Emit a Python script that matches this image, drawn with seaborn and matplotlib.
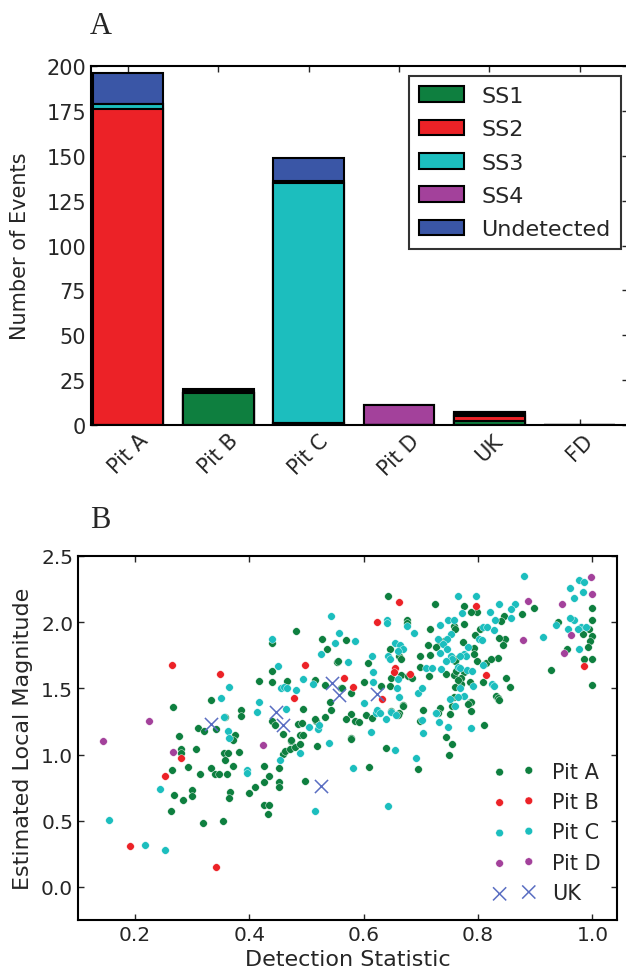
import matplotlib

matplotlib.use("Agg")
import matplotlib.pyplot as plt
import numpy as np
import pandas as pd
import seaborn as sns
from matplotlib.patches import Patch

# ---- panel A: stacked event counts per site
sites = ["Pit A", "Pit B", "Pit C", "Pit D", "UK", "FD"]
ss1 = [0, 18, 1, 0, 2, 0]
ss2 = [176, 0, 0, 0, 3, 0]
ss3 = [3, 0, 134, 0, 1, 0]
ss4 = [0, 1, 1, 11, 1, 0]
undetected = [17, 1, 13, 0, 0, 0]
layer_names = ["SS1", "SS2", "SS3", "SS4", "Undetected"]

# ---- panel B: detection statistic vs magnitude
pit_a = [
    (0.481, 1.93), (0.527, 1.876), (0.569, 1.863), (0.536, 1.80), (0.439, 1.845),
    (0.553, 1.70), (0.44, 1.63), (0.417, 1.557), (0.439, 1.547), (0.466, 1.557),
    (0.515, 1.565), (0.533, 1.527), (0.561, 1.505), (0.332, 1.414), (0.386, 1.34),
    (0.386, 1.29), (0.266, 1.36), (0.493, 1.345), (0.541, 1.40), (0.543, 1.335),
    (0.533, 1.28), (0.578, 1.307), (0.569, 1.27), (0.584, 1.25), (0.517, 1.25),
    (0.342, 1.19), (0.31, 1.20), (0.32, 1.18), (0.358, 1.28), (0.281, 1.045),
    (0.281, 1.01), (0.306, 1.045), (0.355, 1.015), (0.362, 1.015), (0.381, 1.02),
    (0.358, 0.956), (0.372, 0.916), (0.332, 0.90), (0.34, 0.853), (0.347, 0.85),
    (0.36, 0.85), (0.313, 0.85), (0.293, 0.903), (0.264, 0.886), (0.268, 0.694),
    (0.283, 0.653), (0.30, 0.734), (0.30, 0.683), (0.263, 0.57), (0.318, 0.48),
    (0.354, 0.50), (0.366, 0.72), (0.365, 0.67), (0.40, 0.709), (0.41, 0.755),
    (0.425, 0.79), (0.435, 0.835), (0.426, 0.91), (0.451, 0.898), (0.452, 0.79),
    (0.452, 0.755), (0.426, 0.615), (0.434, 0.62), (0.433, 0.547), (0.458, 1.005),
    (0.463, 1.03), (0.471, 1.04), (0.479, 1.057), (0.488, 1.08), (0.472, 1.10),
    (0.518, 1.065), (0.497, 0.797), (0.277, 1.143), (0.375, 1.15), (0.372, 1.11),
    (0.472, 1.11), (0.489, 1.15), (0.494, 1.146), (0.485, 1.227), (0.492, 1.235),
    (0.515, 1.265), (0.578, 1.125), (0.458, 1.158), (0.439, 1.25), (0.445, 1.22),
    (0.61, 0.906), (0.638, 1.047), (0.577, 1.118), (0.591, 1.244), (0.604, 1.295),
    (0.615, 1.277), (0.661, 1.315), (0.669, 1.373), (0.694, 0.893), (0.704, 1.34),
    (0.733, 1.348), (0.751, 1.307), (0.744, 1.13), (0.754, 1.08), (0.749, 1.00),
    (0.811, 1.22), (0.785, 1.40), (0.835, 1.42), (0.699, 1.257), (0.73, 1.31),
    (0.898, 2.105), (0.999, 2.11), (0.877, 2.06), (0.846, 2.047), (0.84, 2.01),
    (0.847, 1.87), (0.843, 1.825), (0.837, 1.88), (0.834, 1.73), (0.798, 2.08),
    (0.787, 2.077), (0.776, 2.12), (0.725, 2.14), (0.642, 2.20), (0.676, 2.015),
    (0.676, 1.99), (0.716, 1.95), (0.757, 1.97), (0.759, 1.946), (0.775, 1.985),
    (0.773, 1.853), (0.804, 1.946), (0.794, 1.90), (0.792, 1.807), (0.792, 1.757),
    (0.762, 1.72), (0.759, 1.71), (0.74, 1.858), (0.734, 1.84), (0.726, 1.815),
    (0.713, 1.825), (0.699, 1.744), (0.716, 1.75), (0.798, 1.71), (0.813, 1.69),
    (0.823, 1.72), (0.809, 1.55), (0.832, 1.44), (0.835, 1.425), (0.837, 1.415),
    (0.849, 1.58), (0.856, 1.51), (0.775, 1.62), (0.77, 1.58), (0.785, 1.55),
    (0.77, 1.53), (0.787, 1.40), (0.76, 1.51), (0.757, 1.60), (0.765, 1.56),
    (0.555, 1.706), (0.608, 1.69), (0.646, 1.80), (0.661, 1.744), (0.665, 1.72),
    (0.665, 1.60), (0.648, 1.58), (0.645, 1.52), (0.677, 1.59), (0.685, 1.58),
    (0.562, 1.505), (0.578, 1.467), (0.60, 1.55), (0.63, 1.517), (0.669, 1.37),
    (0.648, 1.327), (0.659, 1.30), (0.699, 1.664), (0.714, 1.59), (0.743, 1.606),
    (0.762, 1.628), (0.758, 1.436), (0.755, 1.365), (0.782, 1.378), (0.787, 1.327),
    (0.999, 2.02), (0.994, 1.947), (0.999, 1.896), (0.995, 1.858), (0.984, 1.91),
    (0.992, 1.815), (0.985, 1.72), (0.999, 1.72), (0.955, 1.80), (0.999, 1.525),
    (0.94, 2.0), (0.927, 1.636),
]
pit_b = [
    (0.264, 1.68), (0.349, 1.61), (0.497, 1.68), (0.565, 1.58), (0.581, 1.51),
    (0.478, 1.43), (0.281, 0.97), (0.252, 0.835), (0.191, 0.31), (0.341, 0.15),
    (0.662, 2.15), (0.623, 2.00), (0.797, 2.12), (0.655, 1.656), (0.653, 1.62),
    (0.681, 1.61), (0.632, 1.416), (0.813, 1.60), (0.985, 1.668),
]
pit_c = [
    (0.542, 2.047), (0.556, 1.92), (0.549, 1.845), (0.584, 1.858), (0.525, 1.76),
    (0.44, 1.87), (0.573, 1.70), (0.45, 1.667), (0.455, 1.505), (0.46, 1.51),
    (0.466, 1.50), (0.482, 1.49), (0.494, 1.57), (0.511, 1.53), (0.365, 1.507),
    (0.35, 1.43), (0.416, 1.40), (0.414, 1.325), (0.464, 1.345), (0.52, 1.19),
    (0.522, 1.22), (0.504, 1.21), (0.356, 1.285), (0.243, 0.742), (0.154, 0.507),
    (0.218, 0.318), (0.252, 0.277), (0.395, 0.886), (0.395, 0.86), (0.454, 0.956),
    (0.488, 1.01), (0.539, 1.088), (0.514, 0.575), (0.581, 0.898), (0.363, 1.176),
    (0.364, 1.125), (0.643, 0.608), (0.655, 1.035), (0.613, 1.168), (0.624, 1.327),
    (0.621, 1.31), (0.639, 1.265), (0.648, 1.32), (0.657, 1.295), (0.692, 0.974),
    (0.701, 1.259), (0.704, 1.164), (0.727, 1.31), (0.732, 1.244), (0.748, 1.21),
    (0.787, 1.20), (0.881, 2.345), (0.977, 2.32), (0.985, 2.30), (0.961, 2.255),
    (0.984, 2.23), (0.968, 2.18), (0.864, 2.14), (0.857, 2.10), (0.858, 2.035),
    (0.837, 2.136), (0.83, 2.015), (0.827, 1.94), (0.82, 2.078), (0.796, 2.20),
    (0.765, 2.20), (0.772, 2.07), (0.641, 2.015), (0.641, 1.99), (0.675, 1.97),
    (0.687, 1.916), (0.733, 1.977), (0.748, 2.02), (0.758, 2.015), (0.753, 1.91),
    (0.746, 1.87), (0.809, 1.966), (0.815, 1.96), (0.802, 1.876), (0.807, 1.865),
    (0.783, 1.815), (0.776, 1.757), (0.778, 1.744), (0.769, 1.744), (0.753, 1.744),
    (0.754, 1.72), (0.743, 1.706), (0.73, 1.87), (0.739, 1.833), (0.733, 1.77),
    (0.746, 1.80), (0.765, 1.66), (0.769, 1.654), (0.78, 1.64), (0.79, 1.63),
    (0.808, 1.68), (0.824, 1.53), (0.827, 1.517), (0.791, 1.517), (0.776, 1.44),
    (0.765, 1.436), (0.75, 1.42), (0.769, 1.505), (0.614, 1.744), (0.642, 1.744),
    (0.645, 1.72), (0.655, 1.84), (0.663, 1.825), (0.668, 1.795), (0.659, 1.78),
    (0.617, 1.62), (0.616, 1.547), (0.60, 1.39), (0.623, 1.34), (0.629, 1.31),
    (0.659, 1.573), (0.658, 1.505), (0.662, 1.436), (0.694, 1.467), (0.701, 1.505),
    (0.708, 1.653), (0.719, 1.653), (0.735, 1.643), (0.759, 1.365), (0.726, 1.315),
    (0.98, 1.96), (0.988, 1.96), (0.974, 1.947), (0.968, 2.02), (0.961, 2.035),
    (0.958, 1.947), (0.977, 1.795), (0.937, 1.98), (0.914, 1.89),
]
pit_d = [
    (0.143, 1.10), (0.225, 1.255), (0.267, 1.017), (0.423, 1.073), (0.888, 2.16),
    (0.947, 2.14), (0.997, 2.338), (0.999, 2.216), (0.962, 1.90), (0.951, 1.77),
    (0.879, 1.863),
]
uk = [
    (0.332, 1.227), (0.446, 1.32), (0.458, 1.224), (0.545, 1.537), (0.557, 1.449),
    (0.624, 1.46), (0.526, 0.76),
]

colors = {
    "SS1": "#0e7f3f",
    "SS2": "#ec2227",
    "SS3": "#1cbebe",
    "SS4": "#a3419b",
    "Undetected": "#3a56a6",
}

sns.set_style(
    "ticks",
    {
        "xtick.direction": "in",
        "ytick.direction": "in",
        "xtick.top": True,
        "ytick.right": True,
        "axes.edgecolor": "black",
    },
)
plt.rcParams["font.family"] = ["DejaVu Sans"]
plt.rcParams["axes.linewidth"] = 1.5
plt.rcParams["xtick.major.width"] = 1.0
plt.rcParams["ytick.major.width"] = 1.0
plt.rcParams["xtick.major.size"] = 4
plt.rcParams["ytick.major.size"] = 4

fig = plt.figure(figsize=(6.26, 9.78), dpi=100)

# ---------------- A
ax1 = fig.add_axes([0.1454, 0.5644, 0.857, 0.3671])
layers = [ss1, ss2, ss3, ss4, undetected]
cum = np.cumsum(np.array(layers), axis=0)
# draw tallest stack first so lower segments sit on top
for i in range(len(layers) - 1, -1, -1):
    sns.barplot(
        x=sites,
        y=cum[i],
        color=colors[layer_names[i]],
        saturation=1,
        edgecolor="black",
        linewidth=1.5,
        width=0.78,
        ax=ax1,
    )
ax1.set_xlim(-0.41, 5.53)
ax1.set_ylim(0, 200)
ax1.set_yticks(np.arange(0, 201, 25))
ax1.set_ylabel("Number of Events", fontsize=15, labelpad=12)
ax1.set_xlabel("")
ax1.tick_params(axis="both", labelsize=15)
for lab in ax1.get_xticklabels():
    lab.set_rotation(45)
    lab.set_ha("center")
handles = [
    Patch(facecolor=colors[n], edgecolor="black", linewidth=1.5, label=n)
    for n in layer_names
]
leg = ax1.legend(
    handles=handles,
    loc="upper right",
    bbox_to_anchor=(0.987, 0.972),
    borderaxespad=0,
    fontsize=16,
    frameon=True,
    fancybox=False,
    edgecolor="black",
    handlelength=2.0,
    labelspacing=0.6,
    borderpad=0.45,
)
leg.get_frame().set_linewidth(1.5)

# ---------------- B
ax2 = fig.add_axes([0.1246, 0.0583, 0.861, 0.3722])
groups = [
    ("Pit A", pit_a, colors["SS1"]),
    ("Pit B", pit_b, colors["SS2"]),
    ("Pit C", pit_c, colors["SS3"]),
    ("Pit D", pit_d, colors["SS4"]),
]
for name, pts, col in groups:
    df = pd.DataFrame(pts, columns=["stat", "mag"])
    sns.scatterplot(
        data=df,
        x="stat",
        y="mag",
        color=col,
        s=30,
        edgecolor="white",
        linewidth=0.3,
        label=name,
        legend=False,
        ax=ax2,
    )
df_uk = pd.DataFrame(uk, columns=["stat", "mag"])
sns.scatterplot(
    data=df_uk,
    x="stat",
    y="mag",
    color="#5a6ec2",
    marker="x",
    s=90,
    linewidth=1.1,
    label="UK",
    legend=False,
    ax=ax2,
)
ax2.set_xlim(0.1, 1.043)
ax2.set_ylim(-0.25, 2.5)
ax2.set_xticks([0.2, 0.4, 0.6, 0.8, 1.0])
ax2.set_yticks([0.0, 0.5, 1.0, 1.5, 2.0, 2.5])
ax2.xaxis.set_major_formatter(matplotlib.ticker.FormatStrFormatter("%.1f"))
ax2.yaxis.set_major_formatter(matplotlib.ticker.FormatStrFormatter("%.1f"))
ax2.tick_params(axis="both", labelsize=14.5)
ax2.set_xlabel("Detection Statistic", fontsize=16)
ax2.set_ylabel("Estimated Local Magnitude", fontsize=16, labelpad=6)
ax2.legend(
    loc="lower right",
    scatterpoints=2,
    frameon=False,
    fontsize=15,
    handlelength=2.0,
    labelspacing=0.5,
    borderaxespad=0.4,
)

fig.text(0.144, 0.973, "A", family="Liberation Serif", fontsize=22, va="center")
fig.text(0.144, 0.468, "B", family="Liberation Serif", fontsize=22, va="center")

fig.savefig("out.png", dpi=100)
